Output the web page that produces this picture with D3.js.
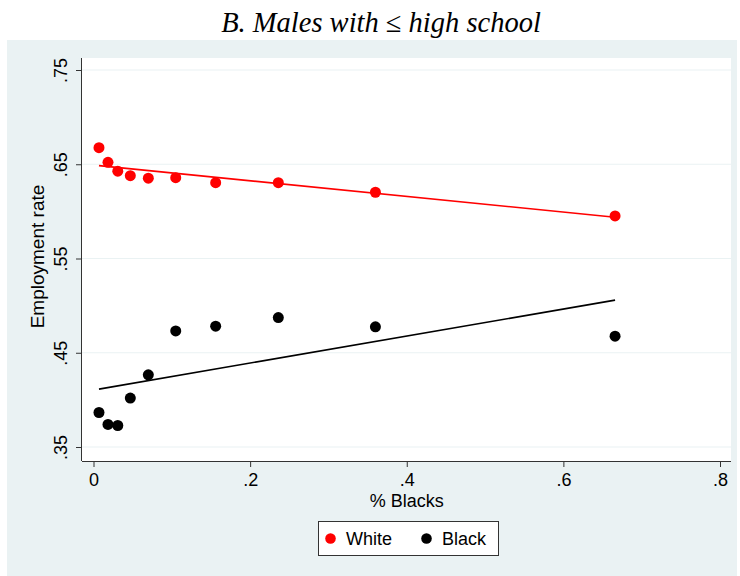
<!DOCTYPE html>
<html>
<head>
<meta charset="utf-8">
<script src="https://cdn.jsdelivr.net/npm/d3@7"></script>
<style>
  html, body { margin: 0; padding: 0; background: #fff; }
  svg { display: block; }
</style>
</head>
<body>
<div id="chart"></div>
<script>
// share of Blacks in the area (bins)
const shareBlack = [0.007, 0.0185, 0.031, 0.047, 0.070, 0.105, 0.156, 0.236, 0.360, 0.666];
const whiteRate = [0.6676, 0.6521, 0.6426, 0.6379, 0.6352, 0.6358, 0.6305, 0.6305, 0.6203, 0.5952];
const blackRate = [0.3866, 0.3739, 0.3728, 0.4019, 0.4266, 0.4732, 0.4782, 0.4873, 0.4775, 0.4676];
// fitted lines, read at their two ends
const whiteFit = [[0.007, 0.6485], [0.666, 0.5938]];
const blackFit = [[0.007, 0.4114], [0.666, 0.5058]];
const xTicks = [0, 0.2, 0.4, 0.6, 0.8];
const yTicks = [0.35, 0.45, 0.55, 0.65, 0.75];

const width = 740, height = 576;
const plot = { left: 82, right: 731, top: 58, bottom: 461 };
const bg = "#eaf2f3";
const font = "'Liberation Sans', Arial, sans-serif";
const fontSize = "18px";

const svg = d3.select("#chart").append("svg")
    .attr("width", width)
    .attr("height", height);

svg.append("rect").attr("x", 7).attr("y", 40).attr("width", 730).attr("height", 536).attr("fill", bg);
svg.append("rect")
    .attr("x", plot.left).attr("y", plot.top)
    .attr("width", plot.right - plot.left).attr("height", plot.bottom - plot.top)
    .attr("fill", "#fff");

svg.append("text")
    .attr("x", 381).attr("y", 32)
    .attr("text-anchor", "middle")
    .style("font-family", "'Liberation Serif', 'Times New Roman', serif")
    .style("font-style", "italic")
    .style("font-size", "28.5px")
    .text("B. Males with \u2264 high school");

const x = d3.scaleLinear().domain([0, 0.8]).range([93.5, 720]);
const y = d3.scaleLinear().domain([0.35, 0.75]).range([447, 70]);

const fmt = v => v === 0 ? "0" : d3.format(".2~f")(v).replace(/^0/, "");

// grid
svg.append("g").selectAll("line").data(yTicks).join("line")
    .attr("x1", plot.left).attr("x2", plot.right)
    .attr("y1", d => y(d)).attr("y2", d => y(d))
    .attr("stroke", bg).attr("stroke-width", 1.2);

// axes
const xAxis = svg.append("g")
    .attr("transform", `translate(0,${plot.bottom})`)
    .call(d3.axisBottom(x).tickValues(xTicks).tickFormat(fmt).tickSize(6).tickSizeOuter(0));
xAxis.select(".domain").attr("d", `M${plot.left},0.5H${plot.right}`);
xAxis.selectAll("text").attr("y", 25).attr("dy", 0);

const yAxis = svg.append("g")
    .attr("transform", `translate(${plot.left},0)`)
    .call(d3.axisLeft(y).tickValues(yTicks).tickFormat(fmt).tickSize(6).tickSizeOuter(0));
yAxis.select(".domain").attr("d", `M-0.5,${plot.top}V${plot.bottom}`);
yAxis.selectAll("text")
    .attr("transform", "rotate(-90)")
    .attr("x", 0).attr("y", -15).attr("dy", 0)
    .attr("text-anchor", "middle");

[xAxis, yAxis].forEach(a => {
    a.selectAll("path, line").attr("stroke", "#333");
    a.selectAll("text").style("font-family", font).style("font-size", fontSize).attr("fill", "#000");
});

svg.append("text")
    .attr("x", (x(0) + x(0.8)) / 2).attr("y", 507)
    .attr("text-anchor", "middle")
    .style("font-family", font).style("font-size", fontSize)
    .text("% Blacks");

svg.append("text")
    .attr("transform", `translate(44,${(plot.top + plot.bottom) / 2 - 3}) rotate(-90)`)
    .attr("text-anchor", "middle")
    .style("font-family", font).style("font-size", "19px")
    .text("Employment rate");

// fit lines
const line = d3.line().x(d => x(d[0])).y(d => y(d[1]));
svg.append("path").attr("d", line(whiteFit)).attr("stroke", "#ff0000").attr("stroke-width", 1.6).attr("fill", "none");
svg.append("path").attr("d", line(blackFit)).attr("stroke", "#000").attr("stroke-width", 1.6).attr("fill", "none");

// points
const series = [
    { name: "White", values: whiteRate, color: "#ff0000" },
    { name: "Black", values: blackRate, color: "#000" }
];
series.forEach(s => {
    svg.append("g").selectAll("circle").data(s.values).join("circle")
        .attr("cx", (d, i) => x(shareBlack[i]))
        .attr("cy", d => y(d))
        .attr("r", 5.5)
        .attr("fill", s.color);
});

// legend
const legend = svg.append("g");
legend.append("rect").attr("x", 318.5).attr("y", 521.5).attr("width", 180).attr("height", 34)
    .attr("fill", "#fff").attr("stroke", "#333");
const legX = [330.5, 426.5];
series.forEach((s, i) => {
    legend.append("circle").attr("cx", legX[i]).attr("cy", 538.5).attr("r", 5.3).attr("fill", s.color);
    legend.append("text").attr("x", legX[i] + 15.5).attr("y", 545)
        .style("font-family", font).style("font-size", fontSize)
        .text(s.name);
});
</script>
</body>
</html>
